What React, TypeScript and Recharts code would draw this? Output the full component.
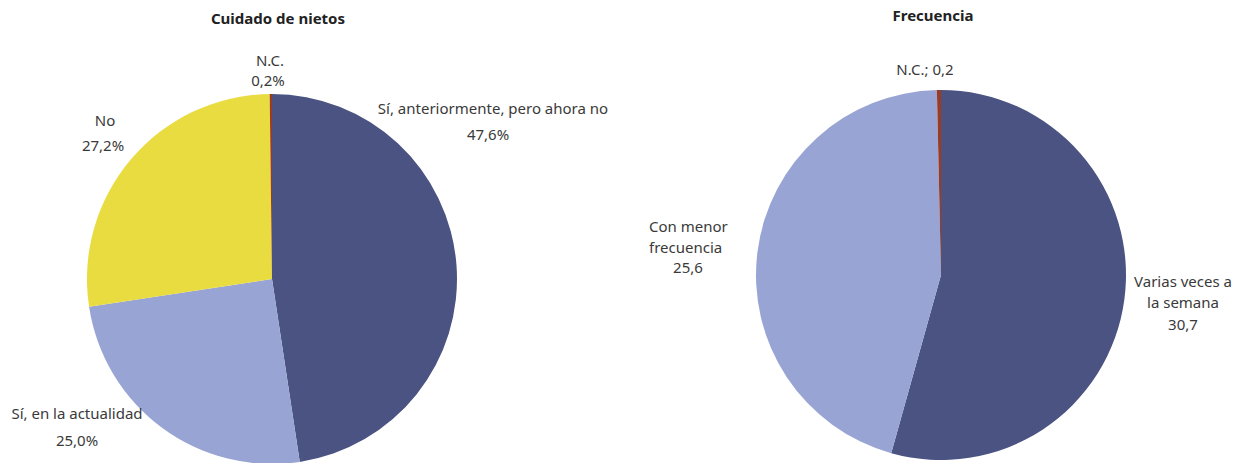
import { PieChart, Pie, Cell } from "recharts";

const careNames = ["Sí, anteriormente, pero ahora no", "Sí, en la actualidad", "No", "N.C."];
const careValues = [47.6, 25.0, 27.2, 0.2];

const freqNames = ["Varias veces a la semana", "Con menor frecuencia", "N.C."];
const freqValues = [30.7, 25.6, 0.2];

const careColors = ["#4a5381", "#98a4d4", "#e8dc40", "#9c3b22"];
const freqColors = ["#4a5381", "#98a4d4", "#9c3b22"];

const careData = careNames.map((name, i) => ({ name, value: careValues[i] }));
const freqData = freqNames.map((name, i) => ({ name, value: freqValues[i] }));

const fmt = (v: number) => v.toFixed(1).replace(".", ",");

type Line = { t: string; dx: number; dy: number; anchor?: "start" | "middle" | "end" };

// label layout, relative to the pie centre
const careLabelLines = (name: string, v: number): Line[][] => [
  [
    { t: name, dx: 221, dy: -171 },
    { t: fmt(v) + "%", dx: 216, dy: -145 },
  ],
  [
    { t: name, dx: -195, dy: 134 },
    { t: fmt(v) + "%", dx: -195, dy: 161 },
  ],
  [
    { t: name, dx: -167, dy: -159 },
    { t: fmt(v) + "%", dx: -169, dy: -134 },
  ],
  [
    { t: name, dx: -2, dy: -219 },
    { t: fmt(v) + "%", dx: -4, dy: -199 },
  ],
];

const freqLabelLines = (name: string, v: number): Line[][] => [
  [
    { t: "Varias veces a", dx: 242, dy: 6 },
    { t: "la semana", dx: 242, dy: 27 },
    { t: fmt(v), dx: 242, dy: 49 },
  ],
  [
    { t: "Con menor", dx: -292, dy: -49, anchor: "start" },
    { t: "frecuencia", dx: -292, dy: -28, anchor: "start" },
    { t: fmt(v), dx: -253, dy: -8 },
  ],
  [{ t: name + "; " + fmt(v), dx: -16, dy: -206 }],
];

const makeLabel =
  (layout: (name: string, v: number) => Line[][]) =>
  (props: any) => {
    const { cx, cy, index, name, value } = props;
    const lines = layout(name, value)[index];
    return (
      <g key={"lbl-" + index}>
        {lines.map((l, j) => (
          <text
            key={j}
            x={cx + l.dx}
            y={cy + l.dy}
            textAnchor={l.anchor || "middle"}
            dominantBaseline="central"
            fill="#3a3a3a"
            fontSize={15}
            fontFamily="'Noto Sans', sans-serif"
          >
            {l.t}
          </text>
        ))}
      </g>
    );
  };

const titleStyle: React.CSSProperties = {
  position: "absolute",
  top: 8,
  fontFamily: "'Noto Sans', sans-serif",
  fontWeight: 700,
  fontSize: 15,
  color: "#222",
  transform: "translateX(-50%)",
  whiteSpace: "nowrap",
};

export default function App() {
  return (
    <div style={{ position: "absolute", left: 0, top: 0, width: 1241, height: 463, background: "#fff" }}>
      <div style={{ ...titleStyle, left: 278 }}>Cuidado de nietos</div>
      <div style={{ ...titleStyle, left: 933, top: 5 }}>Frecuencia</div>
      <PieChart width={1241} height={463} margin={{ top: 0, right: 0, bottom: 0, left: 0 }}>
        <Pie
          data={careData}
          dataKey="value"
          nameKey="name"
          cx={272}
          cy={279}
          outerRadius={185}
          startAngle={90}
          endAngle={-270}
          stroke="none"
          labelLine={false}
          label={makeLabel(careLabelLines)}
          isAnimationActive={false}
        >
          {careData.map((d, i) => (
            <Cell key={d.name} fill={careColors[i]} />
          ))}
        </Pie>
        <Pie
          data={freqData}
          dataKey="value"
          nameKey="name"
          cx={941}
          cy={275}
          outerRadius={185}
          startAngle={90}
          endAngle={-270}
          stroke="none"
          labelLine={false}
          label={makeLabel(freqLabelLines)}
          isAnimationActive={false}
        >
          {freqData.map((d, i) => (
            <Cell key={d.name} fill={freqColors[i]} />
          ))}
        </Pie>
      </PieChart>
    </div>
  );
}
